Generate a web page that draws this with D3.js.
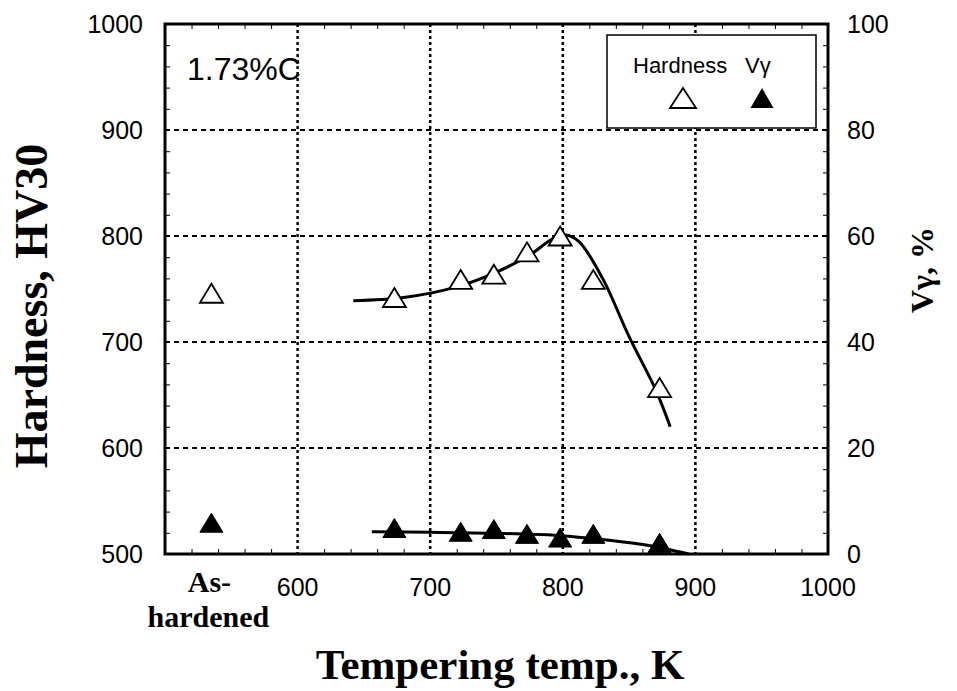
<!DOCTYPE html>
<html>
<head>
<meta charset="utf-8">
<script src="https://cdn.jsdelivr.net/npm/d3@7"></script>
<style>
body { margin: 0; background: #fff; }
</style>
</head>
<body>
<div id="chart"></div>
<script>
// measured points
const tempK = [673, 723, 748, 773, 798, 823, 873]
const hardness = [742, 759, 764, 785, 800, 759, 657]
const vGamma = [4.9, 4.2, 4.7, 3.8, 3.1, 3.8, 2.1]

// as-hardened state, drawn left of the temperature range
const asHardenedK = 535
const asHardness = 746
const asVGamma = 5.9

// hand-drawn trend lines
const hardFitK = [642, 680, 720, 750, 775, 792, 802, 812, 830, 850, 870, 881]
const hardFitHV = [739, 742, 752, 766, 782, 797, 801, 795, 760, 705, 655, 620]
const vFitK = [656, 700, 750, 795, 835, 865, 895]
const vFitPct = [4.2, 4.1, 3.9, 3.5, 2.6, 1.6, 0]

const xTicks = [600, 700, 800, 900, 1000]
const leftTicks = [500, 600, 700, 800, 900, 1000]
const rightTicks = [0, 20, 40, 60, 80, 100]

const width = 957, height = 691
const sans = "'Liberation Sans', Arial, sans-serif"
const serif = "'Liberation Serif', 'Times New Roman', serif"

const svg = d3.select("#chart").append("svg")
    .attr("width", width)
    .attr("height", height)

const x = d3.scaleLinear().domain([500, 1000]).range([165, 828])
const yL = d3.scaleLinear().domain([500, 1000]).range([554, 24])
const yR = d3.scaleLinear().domain([0, 100]).range([554, 24])

// grid
svg.append("g").selectAll("line")
    .data([600, 700, 800, 900])
    .enter().append("line")
    .attr("x1", x(500)).attr("x2", x(1000))
    .attr("y1", d => yL(d)).attr("y2", d => yL(d))
    .attr("stroke", "#000").attr("stroke-width", 2)
    .attr("stroke-dasharray", "5,4")

svg.append("g").selectAll("line")
    .data([600, 700, 800, 900])
    .enter().append("line")
    .attr("x1", d => x(d)).attr("x2", d => x(d))
    .attr("y1", yL(1000)).attr("y2", yL(500))
    .attr("stroke", "#000").attr("stroke-width", 2.5)
    .attr("stroke-dasharray", "3,3")

// minor ticks, pointing inward
function minor(axis, scale, ticks, transform){
    const g = svg.append("g")
        .attr("transform", transform)
        .call(axis(scale).tickValues(ticks).tickSize(-5).tickFormat(""))
    g.select(".domain").remove()
    g.selectAll("line").attr("stroke", "#000").attr("stroke-width", 1)
}
const xMinor = d3.range(520, 1000, 20).filter(d => d % 100 != 0)
const lMinor = d3.range(520, 1000, 20).filter(d => d % 100 != 0)
const rMinor = d3.range(4, 100, 4).filter(d => d % 20 != 0)
minor(d3.axisBottom, x, xMinor, `translate(0,${yL(500)})`)
minor(d3.axisTop, x, xMinor, `translate(0,${yL(1000)})`)
minor(d3.axisLeft, yL, lMinor, `translate(${x(500)},0)`)
minor(d3.axisRight, yR, rMinor, `translate(${x(1000)},0)`)

// frame
svg.append("rect")
    .attr("x", x(500)).attr("y", yL(1000))
    .attr("width", x(1000) - x(500)).attr("height", yL(500) - yL(1000))
    .attr("fill", "none").attr("stroke", "#000").attr("stroke-width", 3)

// tick labels
svg.append("g").selectAll("text")
    .data(leftTicks)
    .enter().append("text")
    .attr("x", 143).attr("y", d => yL(d) + 9)
    .attr("text-anchor", "end")
    .style("font", `25px ${sans}`)
    .text(d => d)

svg.append("g").selectAll("text")
    .data(rightTicks)
    .enter().append("text")
    .attr("x", 847).attr("y", d => yR(d) + 9)
    .style("font", `25px ${sans}`)
    .text(d => d)

svg.append("g").selectAll("text")
    .data(xTicks)
    .enter().append("text")
    .attr("x", d => x(d)).attr("y", 596)
    .attr("text-anchor", "middle")
    .style("font", `25px ${sans}`)
    .text(d => d)

svg.append("text")
    .attr("x", x(asHardenedK) - 2).attr("y", 592)
    .attr("text-anchor", "middle")
    .style("font", `bold 30px ${serif}`)
    .text("As-")
svg.append("text")
    .attr("x", x(asHardenedK) - 3).attr("y", 627)
    .attr("text-anchor", "middle")
    .style("font", `bold 30px ${serif}`)
    .text("hardened")

// axis titles
svg.append("text")
    .attr("x", 500).attr("y", 679)
    .attr("text-anchor", "middle")
    .style("font", `bold 43px ${serif}`)
    .text("Tempering temp., K")

svg.append("text")
    .attr("transform", "translate(47,306) rotate(-90)")
    .attr("text-anchor", "middle")
    .style("font", `bold 46px ${serif}`)
    .text("Hardness, HV30")

svg.append("text")
    .attr("transform", "translate(933,270) rotate(-90)")
    .attr("text-anchor", "middle")
    .style("font", `bold 32px ${serif}`)
    .text("Vγ, %")

svg.append("text")
    .attr("x", 187).attr("y", 80)
    .style("font", `32px ${sans}`)
    .text("1.73%C")

// trend lines
const hardLine = d3.line()
    .x(d => x(d[0])).y(d => yL(d[1]))
    .curve(d3.curveCatmullRom.alpha(0.5))
svg.append("path")
    .datum(d3.zip(hardFitK, hardFitHV))
    .attr("d", hardLine)
    .attr("fill", "none").attr("stroke", "#000").attr("stroke-width", 3)

const vLine = d3.line()
    .x(d => x(d[0])).y(d => yR(d[1]))
    .curve(d3.curveCatmullRom.alpha(0.5))
svg.append("path")
    .datum(d3.zip(vFitK, vFitPct))
    .attr("d", vLine)
    .attr("fill", "none").attr("stroke", "#000").attr("stroke-width", 3)

// markers
const tri = "M0,-9.5L11.5,9.5L-11.5,9.5Z"

svg.append("g").selectAll("path")
    .data(d3.zip([asHardenedK].concat(tempK), [asHardness].concat(hardness)))
    .enter().append("path")
    .attr("d", tri)
    .attr("transform", d => `translate(${x(d[0])},${yL(d[1])})`)
    .attr("fill", "#fff").attr("stroke", "#000").attr("stroke-width", 1.8)

svg.append("g").selectAll("path")
    .data(d3.zip([asHardenedK].concat(tempK), [asVGamma].concat(vGamma)))
    .enter().append("path")
    .attr("d", tri)
    .attr("transform", d => `translate(${x(d[0])},${yR(d[1])})`)
    .attr("fill", "#000").attr("stroke", "#000").attr("stroke-width", 1)

// legend
const legend = svg.append("g")
legend.append("rect")
    .attr("x", 607).attr("y", 35).attr("width", 209).attr("height", 93)
    .attr("fill", "#fff").attr("stroke", "#000").attr("stroke-width", 1.5)
legend.append("text")
    .attr("x", 633).attr("y", 73)
    .style("font", `22px ${sans}`)
    .text("Hardness")
legend.append("text")
    .attr("x", 745).attr("y", 73)
    .style("font", `22px ${sans}`)
    .text("Vγ")
legend.append("path")
    .attr("d", "M0,-10L13,10L-13,10Z")
    .attr("transform", "translate(683,98)")
    .attr("fill", "#fff").attr("stroke", "#000").attr("stroke-width", 1.8)
legend.append("path")
    .attr("d", "M0,-10L11.5,10L-11.5,10Z")
    .attr("transform", "translate(762,98)")
    .attr("fill", "#000")
</script>
</body>
</html>
